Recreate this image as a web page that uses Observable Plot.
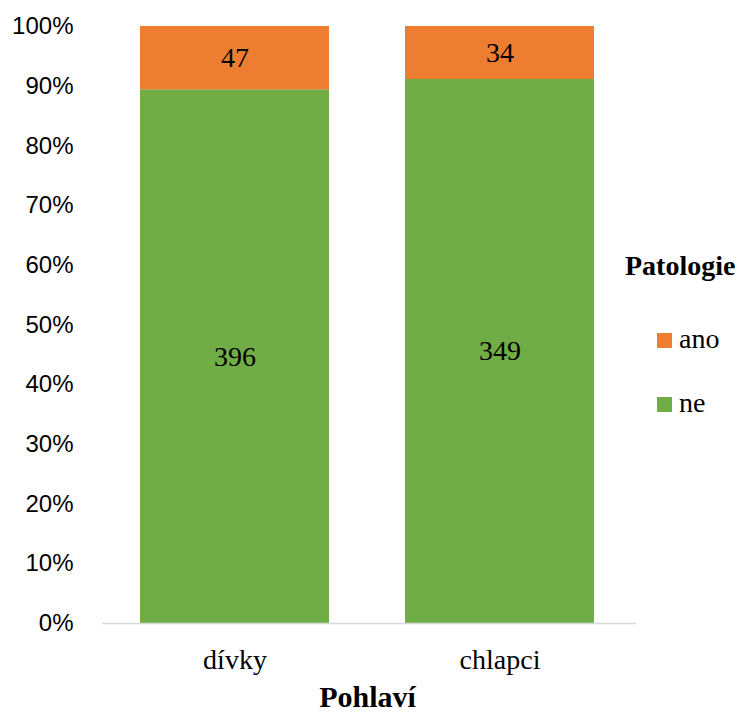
<!DOCTYPE html>
<html>
<head>
<meta charset="utf-8">
<script src="https://cdn.jsdelivr.net/npm/d3@7"></script>
<script src="https://cdn.jsdelivr.net/npm/@observablehq/plot@0.6"></script>
<style>
  body { margin: 0; background: #fff; }
  #wrap { position: relative; width: 744px; height: 713px; }
  .legend { position: absolute; font-family: "Liberation Serif", "Times New Roman", serif; color: #000; line-height: 1; white-space: nowrap; }
  .lg-title { left: 625px; top: 252px; font-size: 28px; font-weight: bold; }
  .lg-text { left: 679px; font-size: 28px; }
  .lg-sw { position: absolute; left: 657px; width: 15px; height: 15px; }
</style>
</head>
<body>
<div id="wrap"></div>
<script>
const categories = ["dívky", "chlapci"];
const series = ["ne", "ano"];
const neValues = [396, 349];
const anoValues = [47, 34];
const yTicks = [0, 0.1, 0.2, 0.3, 0.4, 0.5, 0.6, 0.7, 0.8, 0.9, 1];
const seriesColors = {ano: "#ED7D31", ne: "#70AD47"};
const legendOrder = ["ano", "ne"];

const data = categories.flatMap((c, i) => [
  {pohlavi: c, patologie: "ne", count: neValues[i]},
  {pohlavi: c, patologie: "ano", count: anoValues[i]}
]);

const serif = "'Liberation Serif', 'Times New Roman', serif";
const sans = "'Liberation Sans', Arial, sans-serif";

const chart = Plot.plot({
  width: 744,
  height: 713,
  marginLeft: 102,
  marginRight: 112,
  marginTop: 26,
  marginBottom: 90,
  style: {background: "#fff", overflow: "visible"},
  x: {domain: categories, paddingInner: 0.287, paddingOuter: 0.1435, label: null},
  y: {domain: [0, 1], label: null},
  color: {domain: legendOrder, range: legendOrder.map(k => seriesColors[k])},
  marks: [
    Plot.barY(data, Plot.stackY({x: "pohlavi", y: "count", z: "patologie", fill: "patologie", order: series, offset: "normalize"})),
    Plot.ruleY([0], {stroke: "#d9d9d9", strokeWidth: 1.5, insetLeft: 0, insetRight: -4}),
    Plot.text(data, Plot.stackY({x: "pohlavi", y: "count", z: "patologie", order: series, offset: "normalize", text: d => String(d.count), fontFamily: serif, fontSize: 28, fill: "#000"})),
    Plot.axisY({ticks: yTicks, tickFormat: d => Math.round(d * 100) + "%", tickSize: 0, tickPadding: 29, fontFamily: sans, fontSize: 24, fill: "#000", label: null}),
    Plot.axisX({tickSize: 0, tickPadding: 26, fontFamily: serif, fontSize: 28, fill: "#000", label: null}),
    Plot.text(["Pohlaví"], {frameAnchor: "bottom", dy: 83, text: d => d, fontFamily: serif, fontSize: 30, fontWeight: "bold", fill: "#000"})
  ]
});

const wrap = document.getElementById("wrap");
wrap.appendChild(chart);

const title = document.createElement("div");
title.className = "legend lg-title";
title.textContent = "Patologie";
wrap.appendChild(title);

const textTops = {ano: 325, ne: 389};
const swTops = {ano: 333, ne: 397};
legendOrder.forEach(k => {
  const sw = document.createElement("div");
  sw.className = "lg-sw";
  sw.style.top = swTops[k] + "px";
  sw.style.background = seriesColors[k];
  wrap.appendChild(sw);
  const t = document.createElement("div");
  t.className = "legend lg-text";
  t.style.top = textTops[k] + "px";
  t.textContent = k;
  wrap.appendChild(t);
});
</script>
</body>
</html>
